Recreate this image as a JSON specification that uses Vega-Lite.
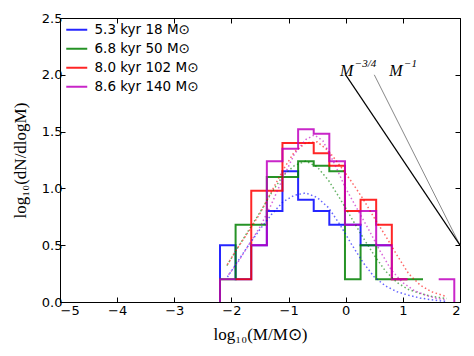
{
  "$schema": "https://vega.github.io/schema/vega-lite/v6.json",
  "width": 400,
  "height": 284,
  "autosize": {"type": "none"},
  "padding": {"left": 60, "top": 18, "right": 14, "bottom": 54},
  "background": "white",
  "config": {
    "view": {"stroke": "black", "strokeWidth": 1},
    "axis": {
      "grid": false,
      "domainColor": "black",
      "tickColor": "black",
      "labelColor": "black",
      "labelFont": "DejaVu Sans",
      "labelFontSize": 13,
      "tickSize": -5,
      "titleFont": "Liberation Serif",
      "titleFontSize": 17,
      "titleFontWeight": "normal",
      "titleColor": "black"
    },
    "legend": {
      "orient": "none",
      "legendX": 10,
      "legendY": 5,
      "padding": 0,
      "symbolType": "M-2,0H2",
      "symbolSize": 110,
      "symbolStrokeWidth": 2,
      "labelFont": "DejaVu Sans",
      "labelFontSize": 13.5,
      "labelColor": "black",
      "labelOffset": 11,
      "rowPadding": 4
    }
  },
  "datasets": {
    "hist": [
      {"series": "5.3 kyr 18 M⊙", "seg": 1, "i": 0, "x": -2.2, "y": 0},
      {"series": "5.3 kyr 18 M⊙", "seg": 1, "i": 1, "x": -2.2, "y": 0.5},
      {"series": "5.3 kyr 18 M⊙", "seg": 1, "i": 2, "x": -1.927, "y": 0.2},
      {"series": "5.3 kyr 18 M⊙", "seg": 1, "i": 3, "x": -1.653, "y": 0.5},
      {"series": "5.3 kyr 18 M⊙", "seg": 1, "i": 4, "x": -1.38, "y": 0.8},
      {"series": "5.3 kyr 18 M⊙", "seg": 1, "i": 5, "x": -1.107, "y": 1.15},
      {"series": "5.3 kyr 18 M⊙", "seg": 1, "i": 6, "x": -0.833, "y": 0.9},
      {"series": "5.3 kyr 18 M⊙", "seg": 1, "i": 7, "x": -0.56, "y": 0.8},
      {"series": "5.3 kyr 18 M⊙", "seg": 1, "i": 8, "x": -0.287, "y": 0.68},
      {"series": "5.3 kyr 18 M⊙", "seg": 1, "i": 9, "x": -0.013, "y": 0.68},
      {"series": "5.3 kyr 18 M⊙", "seg": 1, "i": 10, "x": 0.26, "y": 0.5},
      {"series": "5.3 kyr 18 M⊙", "seg": 1, "i": 11, "x": 0.533, "y": 0.5},
      {"series": "5.3 kyr 18 M⊙", "seg": 1, "i": 12, "x": 0.807, "y": 0.5},

      {"series": "6.8 kyr 50 M⊙", "seg": 1, "i": 0, "x": -2.2, "y": 0},
      {"series": "6.8 kyr 50 M⊙", "seg": 1, "i": 1, "x": -2.2, "y": 0.2},
      {"series": "6.8 kyr 50 M⊙", "seg": 1, "i": 2, "x": -1.927, "y": 0.68},
      {"series": "6.8 kyr 50 M⊙", "seg": 1, "i": 3, "x": -1.653, "y": 0.68},
      {"series": "6.8 kyr 50 M⊙", "seg": 1, "i": 4, "x": -1.38, "y": 1.1},
      {"series": "6.8 kyr 50 M⊙", "seg": 1, "i": 5, "x": -1.107, "y": 1.1},
      {"series": "6.8 kyr 50 M⊙", "seg": 1, "i": 6, "x": -0.833, "y": 1.24},
      {"series": "6.8 kyr 50 M⊙", "seg": 1, "i": 7, "x": -0.56, "y": 1.2},
      {"series": "6.8 kyr 50 M⊙", "seg": 1, "i": 8, "x": -0.287, "y": 1.15},
      {"series": "6.8 kyr 50 M⊙", "seg": 1, "i": 9, "x": -0.013, "y": 0.2},
      {"series": "6.8 kyr 50 M⊙", "seg": 1, "i": 10, "x": 0.26, "y": 0.5},
      {"series": "6.8 kyr 50 M⊙", "seg": 1, "i": 11, "x": 0.533, "y": 0.2},
      {"series": "6.8 kyr 50 M⊙", "seg": 1, "i": 12, "x": 0.807, "y": 0.2},
      {"series": "6.8 kyr 50 M⊙", "seg": 1, "i": 13, "x": 1.08, "y": 0.2},
      {"series": "6.8 kyr 50 M⊙", "seg": 1, "i": 14, "x": 1.353, "y": 0.2},

      {"series": "8.0 kyr 102 M⊙", "seg": 1, "i": 0, "x": -1.927, "y": 0.2},
      {"series": "8.0 kyr 102 M⊙", "seg": 1, "i": 1, "x": -1.653, "y": 0.98},
      {"series": "8.0 kyr 102 M⊙", "seg": 1, "i": 2, "x": -1.38, "y": 0.98},
      {"series": "8.0 kyr 102 M⊙", "seg": 1, "i": 3, "x": -1.107, "y": 1.4},
      {"series": "8.0 kyr 102 M⊙", "seg": 1, "i": 4, "x": -0.833, "y": 1.4},
      {"series": "8.0 kyr 102 M⊙", "seg": 1, "i": 5, "x": -0.56, "y": 1.31},
      {"series": "8.0 kyr 102 M⊙", "seg": 1, "i": 6, "x": -0.287, "y": 1.2},
      {"series": "8.0 kyr 102 M⊙", "seg": 1, "i": 7, "x": -0.013, "y": 0.8},
      {"series": "8.0 kyr 102 M⊙", "seg": 1, "i": 8, "x": 0.26, "y": 0.9},
      {"series": "8.0 kyr 102 M⊙", "seg": 1, "i": 9, "x": 0.533, "y": 0.68},
      {"series": "8.0 kyr 102 M⊙", "seg": 1, "i": 10, "x": 0.807, "y": 0.2},
      {"series": "8.0 kyr 102 M⊙", "seg": 1, "i": 11, "x": 1.08, "y": 0.2},

      {"series": "8.6 kyr 140 M⊙", "seg": 1, "i": 0, "x": -2.2, "y": 0},
      {"series": "8.6 kyr 140 M⊙", "seg": 1, "i": 1, "x": -2.2, "y": 0.2},
      {"series": "8.6 kyr 140 M⊙", "seg": 1, "i": 2, "x": -1.927, "y": 0.2},
      {"series": "8.6 kyr 140 M⊙", "seg": 2, "i": 3, "x": -1.653, "y": 0.5},
      {"series": "8.6 kyr 140 M⊙", "seg": 2, "i": 4, "x": -1.38, "y": 1.24},
      {"series": "8.6 kyr 140 M⊙", "seg": 2, "i": 5, "x": -1.107, "y": 1.35},
      {"series": "8.6 kyr 140 M⊙", "seg": 2, "i": 6, "x": -0.833, "y": 1.52},
      {"series": "8.6 kyr 140 M⊙", "seg": 2, "i": 7, "x": -0.56, "y": 1.48},
      {"series": "8.6 kyr 140 M⊙", "seg": 2, "i": 8, "x": -0.287, "y": 1.24},
      {"series": "8.6 kyr 140 M⊙", "seg": 2, "i": 9, "x": -0.013, "y": 0.68},
      {"series": "8.6 kyr 140 M⊙", "seg": 2, "i": 10, "x": 0.26, "y": 0.8},
      {"series": "8.6 kyr 140 M⊙", "seg": 2, "i": 11, "x": 0.533, "y": 0.5},
      {"series": "8.6 kyr 140 M⊙", "seg": 2, "i": 12, "x": 0.807, "y": 0.2},
      {"series": "8.6 kyr 140 M⊙", "seg": 2, "i": 13, "x": 1.08, "y": 0.2},
      {"series": "8.6 kyr 140 M⊙", "seg": 3, "i": 14, "x": 1.627, "y": 0.2},
      {"series": "8.6 kyr 140 M⊙", "seg": 3, "i": 15, "x": 1.9, "y": 0.2},
      {"series": "8.6 kyr 140 M⊙", "seg": 3, "i": 16, "x": 1.9, "y": 0}
    ],
    "fit": [
      {"series": "5.3 kyr 18 M⊙", "x": -2.07, "y": 0.22},
      {"series": "5.3 kyr 18 M⊙", "x": -1.9, "y": 0.35},
      {"series": "5.3 kyr 18 M⊙", "x": -1.7, "y": 0.5},
      {"series": "5.3 kyr 18 M⊙", "x": -1.5, "y": 0.64},
      {"series": "5.3 kyr 18 M⊙", "x": -1.3, "y": 0.77},
      {"series": "5.3 kyr 18 M⊙", "x": -1.1, "y": 0.88},
      {"series": "5.3 kyr 18 M⊙", "x": -0.9, "y": 0.94},
      {"series": "5.3 kyr 18 M⊙", "x": -0.7, "y": 0.96},
      {"series": "5.3 kyr 18 M⊙", "x": -0.5, "y": 0.92},
      {"series": "5.3 kyr 18 M⊙", "x": -0.3, "y": 0.83},
      {"series": "5.3 kyr 18 M⊙", "x": -0.1, "y": 0.68},
      {"series": "5.3 kyr 18 M⊙", "x": 0.1, "y": 0.51},
      {"series": "5.3 kyr 18 M⊙", "x": 0.3, "y": 0.35},
      {"series": "5.3 kyr 18 M⊙", "x": 0.5, "y": 0.22},
      {"series": "5.3 kyr 18 M⊙", "x": 0.7, "y": 0.14},
      {"series": "5.3 kyr 18 M⊙", "x": 0.9, "y": 0.09},
      {"series": "5.3 kyr 18 M⊙", "x": 1.1, "y": 0.06},
      {"series": "5.3 kyr 18 M⊙", "x": 1.3, "y": 0.035},
      {"series": "5.3 kyr 18 M⊙", "x": 1.5, "y": 0.02},
      {"series": "5.3 kyr 18 M⊙", "x": 1.75, "y": 0.005},

      {"series": "6.8 kyr 50 M⊙", "x": -2.08, "y": 0.32},
      {"series": "6.8 kyr 50 M⊙", "x": -1.9, "y": 0.47},
      {"series": "6.8 kyr 50 M⊙", "x": -1.7, "y": 0.63},
      {"series": "6.8 kyr 50 M⊙", "x": -1.5, "y": 0.79},
      {"series": "6.8 kyr 50 M⊙", "x": -1.3, "y": 0.96},
      {"series": "6.8 kyr 50 M⊙", "x": -1.1, "y": 1.11},
      {"series": "6.8 kyr 50 M⊙", "x": -0.9, "y": 1.2},
      {"series": "6.8 kyr 50 M⊙", "x": -0.7, "y": 1.24},
      {"series": "6.8 kyr 50 M⊙", "x": -0.5, "y": 1.19},
      {"series": "6.8 kyr 50 M⊙", "x": -0.3, "y": 1.07},
      {"series": "6.8 kyr 50 M⊙", "x": -0.1, "y": 0.91},
      {"series": "6.8 kyr 50 M⊙", "x": 0.1, "y": 0.74},
      {"series": "6.8 kyr 50 M⊙", "x": 0.3, "y": 0.57},
      {"series": "6.8 kyr 50 M⊙", "x": 0.5, "y": 0.41},
      {"series": "6.8 kyr 50 M⊙", "x": 0.7, "y": 0.27},
      {"series": "6.8 kyr 50 M⊙", "x": 0.9, "y": 0.17},
      {"series": "6.8 kyr 50 M⊙", "x": 1.1, "y": 0.11},
      {"series": "6.8 kyr 50 M⊙", "x": 1.3, "y": 0.075},
      {"series": "6.8 kyr 50 M⊙", "x": 1.5, "y": 0.05},
      {"series": "6.8 kyr 50 M⊙", "x": 1.77, "y": 0.03},

      {"series": "8.0 kyr 102 M⊙", "x": -2.07, "y": 0.33},
      {"series": "8.0 kyr 102 M⊙", "x": -1.9, "y": 0.47},
      {"series": "8.0 kyr 102 M⊙", "x": -1.7, "y": 0.62},
      {"series": "8.0 kyr 102 M⊙", "x": -1.5, "y": 0.78},
      {"series": "8.0 kyr 102 M⊙", "x": -1.3, "y": 0.97},
      {"series": "8.0 kyr 102 M⊙", "x": -1.1, "y": 1.16},
      {"series": "8.0 kyr 102 M⊙", "x": -0.9, "y": 1.32},
      {"series": "8.0 kyr 102 M⊙", "x": -0.7, "y": 1.4},
      {"series": "8.0 kyr 102 M⊙", "x": -0.5, "y": 1.41},
      {"series": "8.0 kyr 102 M⊙", "x": -0.3, "y": 1.33},
      {"series": "8.0 kyr 102 M⊙", "x": -0.1, "y": 1.2},
      {"series": "8.0 kyr 102 M⊙", "x": 0.1, "y": 1.06},
      {"series": "8.0 kyr 102 M⊙", "x": 0.3, "y": 0.91},
      {"series": "8.0 kyr 102 M⊙", "x": 0.5, "y": 0.74},
      {"series": "8.0 kyr 102 M⊙", "x": 0.7, "y": 0.58},
      {"series": "8.0 kyr 102 M⊙", "x": 0.9, "y": 0.41},
      {"series": "8.0 kyr 102 M⊙", "x": 1.1, "y": 0.25},
      {"series": "8.0 kyr 102 M⊙", "x": 1.3, "y": 0.15},
      {"series": "8.0 kyr 102 M⊙", "x": 1.5, "y": 0.09},
      {"series": "8.0 kyr 102 M⊙", "x": 1.75, "y": 0.05},

      {"series": "8.6 kyr 140 M⊙", "x": -2.05, "y": 0.24},
      {"series": "8.6 kyr 140 M⊙", "x": -1.9, "y": 0.34},
      {"series": "8.6 kyr 140 M⊙", "x": -1.7, "y": 0.5},
      {"series": "8.6 kyr 140 M⊙", "x": -1.5, "y": 0.66},
      {"series": "8.6 kyr 140 M⊙", "x": -1.3, "y": 0.86},
      {"series": "8.6 kyr 140 M⊙", "x": -1.1, "y": 1.09},
      {"series": "8.6 kyr 140 M⊙", "x": -0.9, "y": 1.3},
      {"series": "8.6 kyr 140 M⊙", "x": -0.7, "y": 1.43},
      {"series": "8.6 kyr 140 M⊙", "x": -0.55, "y": 1.47},
      {"series": "8.6 kyr 140 M⊙", "x": -0.4, "y": 1.42},
      {"series": "8.6 kyr 140 M⊙", "x": -0.2, "y": 1.22},
      {"series": "8.6 kyr 140 M⊙", "x": 0.0, "y": 1.0},
      {"series": "8.6 kyr 140 M⊙", "x": 0.2, "y": 0.82},
      {"series": "8.6 kyr 140 M⊙", "x": 0.4, "y": 0.64},
      {"series": "8.6 kyr 140 M⊙", "x": 0.6, "y": 0.45},
      {"series": "8.6 kyr 140 M⊙", "x": 0.8, "y": 0.28},
      {"series": "8.6 kyr 140 M⊙", "x": 1.0, "y": 0.17},
      {"series": "8.6 kyr 140 M⊙", "x": 1.2, "y": 0.1},
      {"series": "8.6 kyr 140 M⊙", "x": 1.4, "y": 0.06},
      {"series": "8.6 kyr 140 M⊙", "x": 1.6, "y": 0.03},
      {"series": "8.6 kyr 140 M⊙", "x": 1.75, "y": 0.02}
    ],
    "laws": [
      {"law": "-3/4", "x": 0, "y": 2.0},
      {"law": "-3/4", "x": 2, "y": 0.5},
      {"law": "-1", "x": 0.5, "y": 2.0},
      {"law": "-1", "x": 2, "y": 0.5}
    ],
    "labels": [
      {"kind": "base", "x": -0.1, "y": 1.99, "t": "M"},
      {"kind": "sup", "x": 0.16, "y": 2.07, "t": "−3/4"},
      {"kind": "base", "x": 0.76, "y": 1.99, "t": "M"},
      {"kind": "sup", "x": 1.02, "y": 2.07, "t": "−1"}
    ]
  },
  "resolve": {"axis": {"x": "independent", "y": "independent"}},
  "layer": [
    {
      "data": {"name": "hist"},
      "mark": {"type": "line", "interpolate": "step-after", "strokeWidth": 2, "opacity": 0.85, "clip": true},
      "encoding": {
        "x": {"field": "x", "type": "quantitative", "scale": {"domain": [-5, 2], "nice": false},
              "axis": {"values": [-5, -4, -3, -2, -1, 0, 1, 2], "title": "log₁₀(M/M⊙)", "labelPadding": 7, "titlePadding": 9}},
        "y": {"field": "y", "type": "quantitative", "scale": {"domain": [0, 2.5], "nice": false, "zero": false},
              "axis": {"values": [0, 0.5, 1, 1.5, 2, 2.5], "format": ".1f", "title": "log₁₀(dN/dlogM)", "labelPadding": 3,
                       "titleX": -40, "titleY": 142, "titleAngle": -90, "titleAlign": "center", "titleBaseline": "middle"}},
        "color": {"field": "series", "type": "nominal",
                  "scale": {"domain": ["5.3 kyr 18 M⊙", "6.8 kyr 50 M⊙", "8.0 kyr 102 M⊙", "8.6 kyr 140 M⊙"],
                            "range": ["#0000ff", "#008000", "#ff0000", "#bf00bf"]},
                  "legend": {"title": null}},
        "detail": {"field": "seg", "type": "nominal"},
        "order": {"field": "i", "type": "quantitative"}
      }
    },
    {
      "data": {"name": "fit"},
      "mark": {"type": "line", "strokeWidth": 1.5, "strokeDash": [1.5, 2.5], "opacity": 0.6, "clip": true},
      "encoding": {
        "x": {"field": "x", "type": "quantitative", "axis": null},
        "y": {"field": "y", "type": "quantitative", "axis": null},
        "color": {"field": "series", "type": "nominal", "legend": null}
      }
    },
    {
      "data": {"name": "laws"},
      "transform": [{"filter": "datum.law === '-1'"}],
      "mark": {"type": "line", "color": "#888888", "strokeWidth": 1},
      "encoding": {
        "x": {"field": "x", "type": "quantitative",
              "axis": {"orient": "top", "values": [-5, -4, -3, -2, -1, 0, 1, 2], "labels": false, "title": null, "domain": false}},
        "y": {"field": "y", "type": "quantitative",
              "axis": {"orient": "right", "values": [0, 0.5, 1, 1.5, 2, 2.5], "labels": false, "title": null, "domain": false}}
      }
    },
    {
      "data": {"name": "laws"},
      "transform": [{"filter": "datum.law === '-3/4'"}],
      "mark": {"type": "line", "color": "black", "strokeWidth": 1.2},
      "encoding": {
        "x": {"field": "x", "type": "quantitative", "axis": null},
        "y": {"field": "y", "type": "quantitative", "axis": null}
      }
    },
    {
      "data": {"name": "labels"},
      "transform": [{"filter": "datum.kind === 'base'"}],
      "mark": {"type": "text", "font": "Liberation Serif", "fontStyle": "italic", "fontSize": 16, "align": "left", "baseline": "alphabetic", "color": "black"},
      "encoding": {
        "x": {"field": "x", "type": "quantitative", "axis": null},
        "y": {"field": "y", "type": "quantitative", "axis": null},
        "text": {"field": "t"}
      }
    },
    {
      "data": {"name": "labels"},
      "transform": [{"filter": "datum.kind === 'sup'"}],
      "mark": {"type": "text", "font": "Liberation Serif", "fontStyle": "italic", "fontSize": 11, "align": "left", "baseline": "alphabetic", "color": "black"},
      "encoding": {
        "x": {"field": "x", "type": "quantitative", "axis": null},
        "y": {"field": "y", "type": "quantitative", "axis": null},
        "text": {"field": "t"}
      }
    }
  ]
}
